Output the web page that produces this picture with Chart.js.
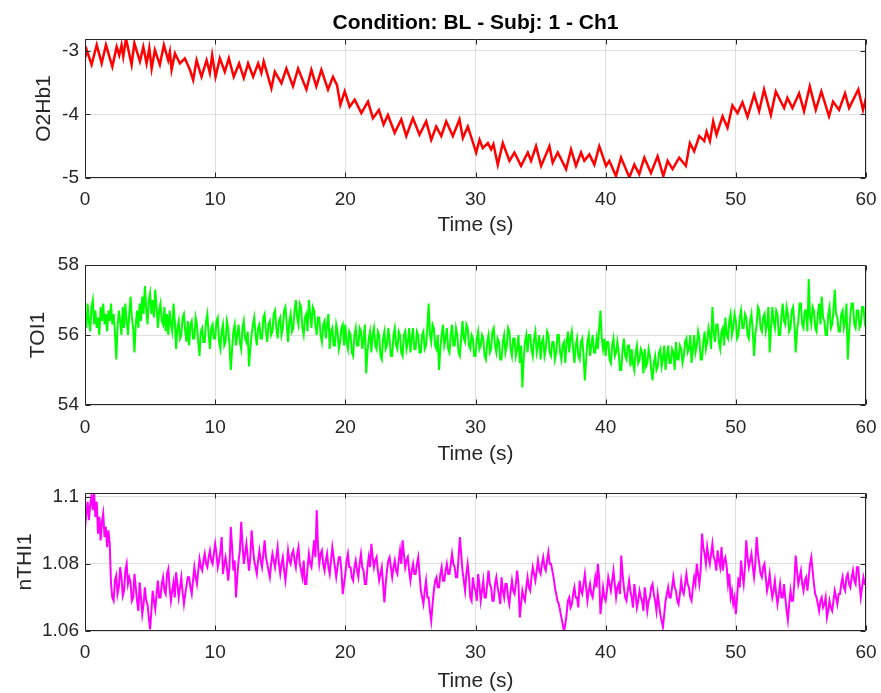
<!DOCTYPE html>
<html>
<head>
<meta charset="utf-8">
<script src="https://cdn.jsdelivr.net/npm/chart.js@4.4.1/dist/chart.umd.min.js"></script>
<style>
  html, body { margin: 0; padding: 0; background: #fff; }
  body { width: 881px; height: 693px; overflow: hidden; position: relative; }
  .panel { position: absolute; left: 0; width: 881px; }
</style>
</head>
<body>
<div class="panel" style="top:0px;height:250px"><canvas id="c1" width="881" height="250"></canvas></div>
<div class="panel" style="top:250px;height:230px"><canvas id="c2" width="881" height="230"></canvas></div>
<div class="panel" style="top:480px;height:220px"><canvas id="c3" width="881" height="220"></canvas></div>
<script>
// ---- data ----
const X_TICKS = [0, 10, 20, 30, 40, 50, 60];

// O2Hb1: time (s) / value pairs, peaks and troughs of the pulse wave
const O2HB_T = [0, 0.13, 0.51, 0.90, 1.28, 1.61, 2.10, 2.43, 2.63, 2.81, 2.94, 3.15, 3.58, 3.79, 4.22, 4.48,
  4.73, 4.94, 5.12, 5.37, 5.75, 6.06, 6.39, 6.52, 6.65, 6.91, 7.29, 7.67, 8.06, 8.31, 8.57, 8.95, 9.34,
  9.59, 9.77, 10.03, 10.36, 10.74, 11.05, 11.43, 11.84, 12.20, 12.53, 12.92, 13.30, 13.55, 13.73, 14.32,
  14.58, 15.09, 15.47, 15.98, 16.37, 17.01, 17.39, 17.77, 18.16, 18.67, 19.05, 19.36, 19.62, 19.95, 20.33,
  20.72, 21.23, 21.74, 22.12, 22.58, 22.94, 23.27, 23.79, 24.30, 24.68, 25.19, 25.70, 26.21, 26.60, 26.98,
  27.37, 27.75, 28.26, 28.77, 29.03, 29.41, 30.05, 30.31, 30.56, 30.95, 31.20, 31.38, 31.71, 32.10, 32.61,
  32.99, 33.50, 34.02, 34.27, 34.65, 35.04, 35.68, 35.93, 36.32, 36.96, 37.34, 37.72, 38.11, 38.36, 38.75,
  39.13, 39.51, 40.03, 40.28, 40.79, 41.18, 41.82, 42.20, 42.58, 42.97, 43.48, 43.99, 44.43, 44.76, 45.14,
  45.65, 46.16, 46.47, 46.80, 47.19, 47.57, 47.75, 48.01, 48.26, 48.52, 48.98, 49.36, 49.74, 50.13, 50.51,
  50.90, 51.41, 51.79, 52.17, 52.69, 53.07, 53.71, 53.96, 54.35, 54.86, 55.24, 55.68, 56.14, 56.57, 57.16,
  57.47, 57.93, 58.39, 58.70, 59.41, 59.77, 60.0];
const O2HB_V = [-3.12, -2.99, -3.22, -2.91, -3.20, -2.91, -3.25, -2.94, -3.07, -2.91, -3.09, -2.81, -3.22, -2.88, -3.17, -2.94,
  -3.20, -2.96, -3.28, -2.99, -3.22, -2.91, -3.15, -3.02, -3.30, -3.04, -3.20, -3.12, -3.30, -3.46, -3.15, -3.41, -3.15,
  -3.35, -3.07, -3.41, -3.12, -3.33, -3.12, -3.41, -3.20, -3.43, -3.20, -3.41, -3.20, -3.35, -3.17, -3.59,
  -3.33, -3.51, -3.28, -3.56, -3.28, -3.61, -3.30, -3.56, -3.30, -3.61, -3.41, -3.54, -3.85, -3.64, -3.88,
  -3.77, -3.98, -3.80, -4.06, -3.93, -4.16, -4.01, -4.29, -4.08, -4.34, -4.06, -4.32, -4.11, -4.40, -4.19,
  -4.34, -4.11, -4.34, -4.08, -4.37, -4.19, -4.60, -4.40, -4.53, -4.45, -4.55, -4.47, -4.79, -4.45, -4.73,
  -4.60, -4.81, -4.60, -4.73, -4.50, -4.81, -4.50, -4.76, -4.60, -4.86, -4.55, -4.81, -4.60, -4.73, -4.63,
  -4.79, -4.50, -4.81, -4.73, -4.97, -4.68, -4.99, -4.79, -4.94, -4.68, -4.92, -4.66, -4.97, -4.73, -4.86,
  -4.68, -4.81, -4.45, -4.58, -4.34, -4.42, -4.27, -4.42, -4.11, -4.32, -4.03, -4.21, -3.86, -3.98, -3.81,
  -4.04, -3.69, -3.95, -3.61, -4.01, -3.64, -3.90, -3.74, -3.90, -3.67, -3.95, -3.56, -3.93, -3.64, -4.03,
  -3.80, -3.93, -3.67, -3.90, -3.61, -3.93, -3.74];

// TOI1 and nTHI1: one value every SAMPLE_DT seconds, 0 to 60 s (one row = 1 s)
const SAMPLE_DT = 0.1;
const TOI_V = [
  56.6, 56.2, 56.9, 56.4, 56.1, 56.8, 57.0, 56.3, 56.7, 56.2,
  56.5, 56.0, 56.8, 56.4, 56.9, 56.3, 56.6, 56.1, 56.7, 56.4,
  56.9, 56.3, 56.6, 56.1, 55.3, 56.2, 56.7, 56.4, 56.0, 56.8,
  56.2, 56.9, 56.4, 56.0, 56.6, 57.1, 56.5, 56.2, 55.5, 56.3,
  56.7, 56.2, 56.9, 56.4, 57.1, 56.6, 57.4, 56.8, 56.3, 57.0,
  57.2, 56.6, 57.0, 56.5, 57.3, 56.8, 56.2, 56.7, 56.9, 56.4,
  56.3, 56.8, 56.1, 56.6, 56.0, 56.7, 56.3, 56.1, 56.9, 56.4,
  55.6, 56.2, 56.4, 55.9, 56.0, 56.5, 56.6, 56.1, 55.8, 56.4,
  55.7, 56.3, 56.4, 55.9, 55.9, 56.5, 56.3, 55.8, 55.4, 56.1,
  56.2, 55.8, 55.8, 56.4, 56.6, 56.0, 55.6, 56.2, 56.3, 55.9,
  55.9, 56.4, 56.5, 55.8, 55.6, 56.1, 56.3, 55.7, 55.8, 56.4,
  56.2, 55.7, 55.0, 55.6, 56.1, 56.3, 55.7, 56.0, 56.3, 55.8,
  55.6, 56.2, 56.4, 55.9, 55.8, 56.1, 55.1, 55.6, 56.0, 56.3,
  56.5, 56.0, 55.7, 56.2, 56.3, 55.9, 55.9, 56.5, 56.6, 56.1,
  55.8, 56.3, 56.4, 56.0, 56.1, 56.6, 56.7, 56.2, 55.9, 56.4,
  56.5, 56.0, 56.2, 56.7, 56.8, 56.3, 55.8, 56.4, 56.6, 56.1,
  56.2, 56.7, 57.0, 56.5, 56.3, 56.9, 56.8, 56.2, 56.0, 56.5,
  56.6, 56.1, 57.0, 56.6, 56.2, 56.8, 56.7, 56.3, 56.0, 56.5,
  56.5, 56.0, 55.8, 56.3, 56.4, 55.9, 56.3, 56.6, 55.6, 56.1,
  56.2, 55.7, 55.7, 56.3, 56.1, 55.6, 55.8, 56.2, 56.3, 55.7,
  56.3, 55.8, 55.6, 56.1, 56.0, 55.5, 55.4, 56.0, 56.2, 55.7,
  55.7, 56.2, 56.1, 55.6, 55.9, 56.3, 54.9, 55.5, 55.9, 56.1,
  55.5, 56.0, 56.2, 55.7, 55.6, 56.1, 56.0, 55.4, 55.3, 55.9,
  56.1, 55.6, 55.7, 56.2, 55.9, 55.4, 55.4, 56.0, 56.2, 55.7,
  55.6, 56.1, 56.0, 55.5, 55.4, 56.0, 56.1, 55.6, 55.8, 56.2,
  55.5, 55.9, 56.2, 55.6, 55.6, 56.1, 56.0, 55.5, 55.5, 56.0,
  56.1, 55.6, 55.7, 56.2, 56.9, 56.0, 55.8, 56.3, 56.2, 55.7,
  55.6, 56.0, 55.0, 55.6, 56.0, 56.3, 55.7, 55.9, 56.2, 55.6,
  55.5, 56.0, 56.3, 55.7, 55.7, 56.2, 56.0, 55.5, 55.4, 55.9,
  56.4, 55.9, 55.8, 56.3, 56.2, 55.7, 55.6, 56.0, 55.9, 55.4,
  55.4, 55.9, 56.1, 55.6, 55.7, 56.0, 55.9, 55.4, 55.3, 55.8,
  56.0, 55.5, 55.6, 56.1, 56.2, 55.7, 55.5, 55.9, 55.8, 55.3,
  55.3, 55.8, 56.0, 55.5, 55.7, 56.2, 56.1, 55.6, 55.4, 55.9,
  55.9, 55.4, 55.6, 56.0, 55.2, 55.7, 54.5, 55.3, 55.8, 56.0,
  55.5, 56.0, 56.0, 55.6, 55.4, 55.9, 56.1, 55.5, 55.7, 56.0,
  55.3, 55.8, 55.9, 55.4, 55.6, 56.1, 56.0, 55.5, 55.4, 55.8,
  55.8, 55.3, 55.5, 56.0, 56.0, 55.5, 55.3, 55.7, 55.8, 55.2,
  55.8, 56.1, 55.5, 55.9, 56.1, 55.6, 55.2, 55.7, 55.9, 55.4,
  55.3, 55.8, 55.9, 55.4, 54.7, 55.3, 55.8, 56.0, 55.4, 55.7,
  56.0, 55.5, 55.5, 55.9, 55.6, 56.2, 56.7, 55.9, 55.6, 55.9,
  55.4, 55.8, 55.8, 55.3, 55.2, 55.7, 55.9, 55.4, 55.5, 55.8,
  55.5, 55.0, 55.0, 55.6, 55.9, 55.4, 55.3, 55.7, 55.7, 55.1,
  55.6, 55.2, 55.0, 55.5, 55.7, 55.2, 55.3, 55.6, 55.5, 54.9,
  55.6, 55.1, 55.2, 55.6, 55.4, 55.0, 54.7, 55.2, 55.4, 55.0,
  55.1, 55.5, 55.6, 55.1, 55.3, 55.7, 55.0, 55.4, 55.7, 55.2,
  55.2, 55.6, 55.5, 55.0, 55.8, 55.3, 55.3, 55.7, 55.6, 55.2,
  55.4, 55.8, 55.9, 55.5, 55.6, 56.0, 55.2, 55.6, 56.0, 55.5,
  55.7, 56.1, 55.9, 55.3, 55.3, 55.8, 56.1, 55.6, 55.8, 56.2,
  56.0, 55.6, 56.8, 56.1, 55.8, 56.3, 56.3, 55.8, 55.6, 56.1,
  56.2, 55.7, 56.5, 56.0, 55.9, 56.4, 56.6, 56.0, 56.2, 56.6,
  56.4, 55.9, 56.0, 56.5, 56.7, 56.2, 56.2, 56.6, 56.5, 56.0,
  55.9, 56.4, 56.6, 56.1, 55.4, 56.0, 56.3, 56.8, 56.7, 56.2,
  56.1, 56.5, 56.6, 56.1, 56.3, 56.8, 55.5, 56.2, 56.8, 56.4,
  56.2, 56.7, 56.6, 56.0, 56.0, 56.5, 56.9, 56.4, 56.3, 56.8,
  56.6, 56.1, 56.2, 56.7, 56.8, 56.3, 55.5, 56.1, 56.4, 56.9,
  56.9, 56.3, 56.2, 56.7, 56.7, 56.1, 57.6, 56.5, 56.3, 56.8,
  56.7, 56.2, 56.1, 56.6, 56.9, 56.3, 57.1, 56.5, 56.4, 56.0,
  56.0, 56.6, 56.8, 56.2, 56.3, 56.7, 57.3, 56.6, 56.5, 56.1,
  56.1, 56.6, 56.7, 56.2, 56.4, 56.9, 55.3, 56.0, 56.6, 56.9,
  56.9, 56.3, 56.2, 56.7, 56.7, 56.2, 56.3, 56.8, 56.8, 56.4,
  56.6];
const NTHI_V = [
  1.0905, 1.0950, 1.0985, 1.0930, 1.0975, 1.1005, 1.0960, 1.1010, 1.0940, 1.0985,
  1.0890, 1.0940, 1.0870, 1.0925, 1.0950, 1.0880, 1.0910, 1.0850, 1.0900, 1.0860,
  1.0740, 1.0700, 1.0690, 1.0750, 1.0765, 1.0710, 1.0730, 1.0790, 1.0760, 1.0705,
  1.0720, 1.0780, 1.0800, 1.0740, 1.0760, 1.0745, 1.0690, 1.0700, 1.0770, 1.0730,
  1.0690, 1.0660, 1.0745, 1.0700, 1.0650, 1.0680, 1.0730, 1.0690, 1.0680, 1.0640,
  1.0605, 1.0660, 1.0720, 1.0690, 1.0665, 1.0710, 1.0750, 1.0700, 1.0700, 1.0740,
  1.0760, 1.0720, 1.0710, 1.0770, 1.0785, 1.0730, 1.0690, 1.0720, 1.0745, 1.0700,
  1.0775, 1.0740, 1.0700, 1.0730, 1.0760, 1.0715, 1.0680, 1.0710, 1.0735, 1.0760,
  1.0760, 1.0730, 1.0710, 1.0750, 1.0790, 1.0760, 1.0740, 1.0780, 1.0815, 1.0790,
  1.0780, 1.0810, 1.0830, 1.0800, 1.0790, 1.0820, 1.0840, 1.0810, 1.0800, 1.0830,
  1.0860, 1.0830, 1.0790, 1.0810, 1.0835, 1.0880, 1.0770, 1.0800, 1.0820, 1.0790,
  1.0750, 1.0790, 1.0910, 1.0850, 1.0780, 1.0810, 1.0700, 1.0760, 1.0810, 1.0840,
  1.0925, 1.0860, 1.0800, 1.0830, 1.0860, 1.0820, 1.0780, 1.0820, 1.0900, 1.0850,
  1.0810, 1.0790, 1.0770, 1.0810, 1.0840, 1.0810, 1.0790, 1.0830, 1.0870, 1.0820,
  1.0800, 1.0780, 1.0760, 1.0800, 1.0830, 1.0810, 1.0790, 1.0820, 1.0850, 1.0800,
  1.0770, 1.0800, 1.0820, 1.0780, 1.0750, 1.0790, 1.0840, 1.0810, 1.0800, 1.0830,
  1.0840, 1.0810, 1.0790, 1.0830, 1.0850, 1.0800, 1.0780, 1.0760, 1.0810, 1.0740,
  1.0740, 1.0790, 1.0830, 1.0800, 1.0790, 1.0830, 1.0870, 1.0820, 1.0960, 1.0850,
  1.0800, 1.0830, 1.0840, 1.0800, 1.0780, 1.0810, 1.0830, 1.0790, 1.0770, 1.0810,
  1.0850, 1.0820, 1.0790, 1.0760, 1.0790, 1.0820, 1.0820, 1.0780, 1.0710, 1.0740,
  1.0770, 1.0810, 1.0830, 1.0790, 1.0790, 1.0760, 1.0750, 1.0790, 1.0810, 1.0780,
  1.0760, 1.0800, 1.0830, 1.0790, 1.0780, 1.0740, 1.0740, 1.0790, 1.0820, 1.0790,
  1.0860, 1.0820, 1.0790, 1.0810, 1.0820, 1.0780, 1.0750, 1.0770, 1.0790, 1.0740,
  1.0685, 1.0740, 1.0780, 1.0810, 1.0820, 1.0790, 1.0760, 1.0790, 1.0810, 1.0780,
  1.0770, 1.0810, 1.0840, 1.0800, 1.0870, 1.0830, 1.0790, 1.0810, 1.0820, 1.0780,
  1.0750, 1.0780, 1.0800, 1.0770, 1.0770, 1.0800, 1.0820, 1.0770, 1.0720, 1.0700,
  1.0680, 1.0720, 1.0750, 1.0700, 1.0700, 1.0660, 1.0630, 1.0680, 1.0720, 1.0750,
  1.0760, 1.0730, 1.0730, 1.0770, 1.0790, 1.0750, 1.0750, 1.0780, 1.0800, 1.0770,
  1.0770, 1.0800, 1.0830, 1.0800, 1.0790, 1.0760, 1.0760, 1.0820, 1.0880, 1.0830,
  1.0780, 1.0750, 1.0720, 1.0770, 1.0800, 1.0760, 1.0700, 1.0690, 1.0760, 1.0730,
  1.0720, 1.0690, 1.0770, 1.0740, 1.0690, 1.0720, 1.0750, 1.0700, 1.0700, 1.0740,
  1.0780, 1.0740, 1.0730, 1.0690, 1.0690, 1.0740, 1.0760, 1.0730, 1.0710, 1.0680,
  1.0760, 1.0720, 1.0700, 1.0740, 1.0740, 1.0700, 1.0680, 1.0720, 1.0750, 1.0720,
  1.0710, 1.0740, 1.0780, 1.0740, 1.0640, 1.0680, 1.0720, 1.0700, 1.0690, 1.0730,
  1.0760, 1.0730, 1.0720, 1.0760, 1.0790, 1.0770, 1.0750, 1.0780, 1.0810, 1.0780,
  1.0770, 1.0800, 1.0820, 1.0790, 1.0780, 1.0810, 1.0835, 1.0800, 1.0800, 1.0780,
  1.0760, 1.0730, 1.0710, 1.0690, 1.0680, 1.0660, 1.0640, 1.0620, 1.0600, 1.0620,
  1.0650, 1.0690, 1.0700, 1.0670, 1.0680, 1.0710, 1.0730, 1.0700, 1.0700, 1.0670,
  1.0750, 1.0720, 1.0710, 1.0740, 1.0770, 1.0730, 1.0690, 1.0720, 1.0740, 1.0710,
  1.0700, 1.0730, 1.0760, 1.0730, 1.0800, 1.0760, 1.0650, 1.0690, 1.0730, 1.0700,
  1.0690, 1.0720, 1.0760, 1.0740, 1.0720, 1.0750, 1.0780, 1.0740, 1.0700, 1.0730,
  1.0740, 1.0710, 1.0825, 1.0770, 1.0730, 1.0700, 1.0690, 1.0720, 1.0750, 1.0720,
  1.0700, 1.0670, 1.0740, 1.0710, 1.0670, 1.0690, 1.0720, 1.0700, 1.0690, 1.0660,
  1.0730, 1.0700, 1.0660, 1.0690, 1.0700, 1.0730, 1.0740, 1.0710, 1.0690, 1.0660,
  1.0710, 1.0680, 1.0650, 1.0630, 1.0612, 1.0650, 1.0690, 1.0710, 1.0730, 1.0700,
  1.0700, 1.0730, 1.0760, 1.0730, 1.0720, 1.0690, 1.0680, 1.0710, 1.0750, 1.0720,
  1.0710, 1.0740, 1.0770, 1.0740, 1.0730, 1.0700, 1.0690, 1.0730, 1.0760, 1.0740,
  1.0800, 1.0770, 1.0740, 1.0780, 1.0890, 1.0850, 1.0830, 1.0800, 1.0850, 1.0820,
  1.0800, 1.0830, 1.0860, 1.0820, 1.0810, 1.0780, 1.0840, 1.0810, 1.0790, 1.0850,
  1.0780, 1.0810, 1.0820, 1.0790, 1.0740, 1.0770, 1.0700, 1.0720, 1.0680, 1.0700,
  1.0650, 1.0700, 1.0760, 1.0730, 1.0810, 1.0770, 1.0740, 1.0790, 1.0870, 1.0820,
  1.0790, 1.0810, 1.0830, 1.0790, 1.0760, 1.0800, 1.0880, 1.0830, 1.0800, 1.0770,
  1.0760, 1.0790, 1.0800, 1.0760, 1.0720, 1.0740, 1.0770, 1.0730, 1.0700, 1.0720,
  1.0750, 1.0710, 1.0680, 1.0710, 1.0740, 1.0700, 1.0700, 1.0740, 1.0700, 1.0660,
  1.0632, 1.0680, 1.0720, 1.0690, 1.0690, 1.0750, 1.0825, 1.0780, 1.0740, 1.0760,
  1.0780, 1.0740, 1.0720, 1.0750, 1.0760, 1.0720, 1.0760, 1.0800, 1.0820, 1.0780,
  1.0740, 1.0710, 1.0700, 1.0680, 1.0660, 1.0690, 1.0700, 1.0670, 1.0680, 1.0700,
  1.0640, 1.0660, 1.0690, 1.0670, 1.0660, 1.0690, 1.0720, 1.0700, 1.0680, 1.0710,
  1.0710, 1.0740, 1.0760, 1.0730, 1.0720, 1.0760, 1.0770, 1.0740, 1.0730, 1.0760,
  1.0780, 1.0750, 1.0740, 1.0790, 1.0790, 1.0740, 1.0700, 1.0730, 1.0760, 1.0740,
  1.0740];

const O2HB_TICKS = [-5, -4, -3];
const TOI_TICKS = [54, 56, 58];
const NTHI_TICKS = [1.06, 1.08, 1.1];

// ---- styling ----
const TEXT = '#262626';
const GRID = '#dfdfdf';
const FONT = 'Arial, "Liberation Sans", Helvetica, sans-serif';

// MATLAB style box with inward tick marks on all four sides
const boxPlugin = {
  id: 'matlabBox',
  afterDraw(chart) {
    const { ctx, chartArea: a, scales: { x, y } } = chart;
    const L = Math.round(a.left) + 0.5, R = Math.round(a.right) - 0.5;
    const T = Math.round(a.top) + 0.5, B = Math.round(a.bottom) - 0.5;
    ctx.save();
    ctx.strokeStyle = TEXT;
    ctx.lineWidth = 1;
    ctx.beginPath();
    x.ticks.forEach(t => {
      const px = Math.round(x.getPixelForValue(t.value)) + 0.5;
      ctx.moveTo(px, B); ctx.lineTo(px, B - 5);
      ctx.moveTo(px, T); ctx.lineTo(px, T + 5);
    });
    y.ticks.forEach(t => {
      const py = Math.round(y.getPixelForValue(t.value)) + 0.5;
      ctx.moveTo(L, py); ctx.lineTo(L + 5, py);
      ctx.moveTo(R, py); ctx.lineTo(R - 5, py);
    });
    ctx.rect(L, T, R - L, B - T);
    ctx.stroke();
    ctx.restore();
  }
};

function plot(id, c) {
  new Chart(document.getElementById(id), {
    type: 'line',
    data: {
      datasets: [{
        data: c.points,
        borderColor: c.color,
        borderWidth: c.lineWidth,
        pointRadius: 0,
        tension: 0,
        fill: false
      }]
    },
    options: {
      responsive: false,
      animation: false,
      events: [],
      layout: { padding: { top: c.padTop, left: 0, right: 15, bottom: 0 } },
      plugins: {
        legend: { display: false },
        tooltip: { enabled: false },
        title: c.title ? {
          display: true,
          text: c.title,
          color: '#000',
          fullSize: false,
          font: { family: FONT, size: 21, weight: 'bold' },
          padding: { top: 10.4, bottom: 3.4 }
        } : { display: false }
      },
      scales: {
        x: {
          type: 'linear',
          min: 0,
          max: 60,
          afterBuildTicks: s => { s.ticks = X_TICKS.map(v => ({ value: v })); },
          afterFit: s => { s.height = c.xHeight; s.paddingLeft = 0; s.paddingRight = 0; },
          grid: { color: GRID, drawTicks: false },
          border: { display: false },
          ticks: { color: TEXT, font: { family: FONT, size: 19 }, padding: c.xTickPad, maxRotation: 0 },
          title: {
            display: true, text: 'Time (s)', color: TEXT,
            font: { family: FONT, size: 21 },
            padding: { top: 0, bottom: c.xTitlePad }
          }
        },
        y: {
          min: c.yMin,
          max: c.yMax,
          afterBuildTicks: s => { s.ticks = c.yTicks.map(v => ({ value: v })); },
          afterFit: s => { s.width = 85; s.paddingTop = 0; s.paddingBottom = 0; },
          grid: { color: GRID, drawTicks: false },
          border: { display: false },
          ticks: {
            color: TEXT, font: { family: FONT, size: 19 }, padding: 6,
            callback: v => String(Number(v.toFixed(3)))
          },
          title: {
            display: true, text: c.yLabel, color: TEXT,
            font: { family: FONT, size: 21 },
            padding: { top: c.yTitlePad, bottom: 0 }
          }
        }
      }
    },
    plugins: [boxPlugin]
  });
}

const sampled = vals => vals.map((v, i) => ({ x: +(i * SAMPLE_DT).toFixed(2), y: v }));

plot('c1', {
  points: O2HB_T.map((t, i) => ({ x: t, y: O2HB_V[i] })),
  color: '#ff0000', lineWidth: 2.5,
  title: 'Condition: BL - Subj: 1 - Ch1',
  padTop: 0, xHeight: 72, xTickPad: 10.6, xTitlePad: 11.9,
  yMin: -5, yMax: -2.816, yTicks: O2HB_TICKS, yLabel: 'O2Hb1', yTitlePad: 31.4
});
plot('c2', {
  points: sampled(TOI_V),
  color: '#00ff00', lineWidth: 2,
  padTop: 15, xHeight: 75, xTickPad: 11.6, xTitlePad: 13.4,
  yMin: 54, yMax: 58, yTicks: TOI_TICKS, yLabel: 'TOI1', yTitlePad: 25.4
});
plot('c3', {
  points: sampled(NTHI_V),
  color: '#ff00ff', lineWidth: 2,
  padTop: 12.7, xHeight: 69, xTickPad: 10.6, xTitlePad: 6.4,
  yMin: 1.06, yMax: 1.1012, yTicks: NTHI_TICKS, yLabel: 'nTHI1', yTitlePad: 12.4
});
</script>
</body>
</html>
